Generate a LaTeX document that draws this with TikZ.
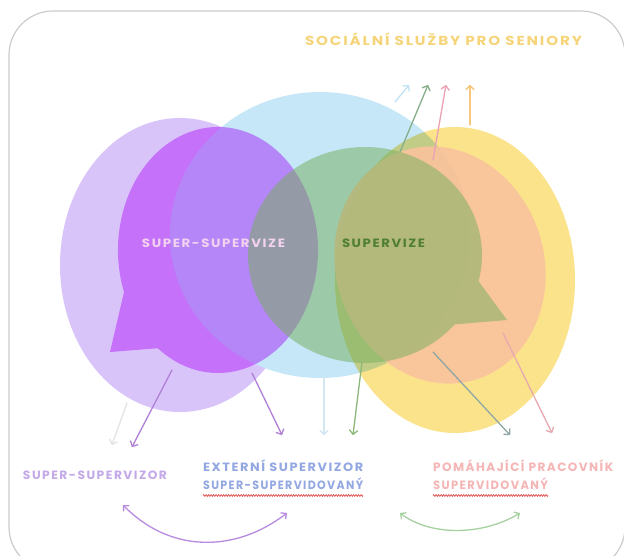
\documentclass[tikz,border=0pt]{standalone}
\usepackage{fontspec}
\usepackage{graphicx}
\newfontfamily\labfont{Poppins}[LetterSpace=12]
\usetikzlibrary{arrows.meta,decorations.pathmorphing}

\definecolor{framegray}{HTML}{CCCCCC}
\definecolor{lavender}{HTML}{D9C4FA}
\definecolor{skyblue}{HTML}{C5E7F7}
\definecolor{sunny}{HTML}{FBE38C}
\definecolor{peach}{HTML}{F9C39C}
\definecolor{magentamul}{HTML}{E994FF}
\definecolor{leaf}{HTML}{78AF5F}
\definecolor{titlecol}{HTML}{F6D57A}
\definecolor{ssvcol}{HTML}{F3D2F0}
\definecolor{svcol}{HTML}{4E7F32}
\definecolor{ssvzcol}{HTML}{C3A9E8}
\definecolor{extcol}{HTML}{93A8E2}
\definecolor{helpcol}{HTML}{F5B5B5}
\definecolor{spellred}{HTML}{E06060}
\definecolor{arrblue}{HTML}{BFE3F4}
\definecolor{arrgreen}{HTML}{86AE88}
\definecolor{arrpink}{HTML}{EAA2B4}
\definecolor{arrorange}{HTML}{F6C77C}
\definecolor{arrgray}{HTML}{E3E3E3}
\definecolor{arrpurple}{HTML}{B07FD6}
\definecolor{arrlblue}{HTML}{D5E6F3}
\definecolor{arrleaf}{HTML}{8CB87C}
\definecolor{arrteal}{HTML}{8FA7A4}
\definecolor{arrrose}{HTML}{E9A9B0}
\definecolor{swapviolet}{HTML}{B88AE0}
\definecolor{swapgreen}{HTML}{A5D0A0}

% set a label to a given width, keeping its height
\newcommand\wfit[2]{\resizebox{#1pt}{\height}{#2}}

\tikzset{
  flow/.style={line width=1.3pt, line cap=round, line join=round,
    -{Straight Barb[length=4pt,width=8pt,line cap=round,line join=round]}},
  swap/.style={line width=1.3pt, line cap=round,
    {Straight Barb[length=4pt,width=8pt]}-{Straight Barb[length=4pt,width=8pt]}},
  lab/.style={font=\labfont\bfseries\fontsize{12}{14}\selectfont,
    inner sep=0pt, text height=8.5pt, text depth=0pt},
  spell/.style={spellred, line width=0.8pt,
    decorate, decoration={zigzag, segment length=2.5pt, amplitude=0.9pt}}
}

\begin{document}
\begin{tikzpicture}[x=1pt,y=-1pt]
\useasboundingbox (0,0) rectangle (624,555);
\fill[white] (0,0) rectangle (624,555);

% outer card
\begin{scope}
  \clip (0,0) rectangle (624,555);
  \draw[framegray, line width=1.2pt, rounded corners=44pt] (9,11) rectangle (625,571);
\end{scope}

% base circles
\fill[lavender] (180,265) ellipse [x radius=120, y radius=147];
\fill[skyblue] (320,235) ellipse [x radius=150, y radius=143];
\begin{scope}[blend mode=multiply]
  \fill[sunny] (455,280) ellipse [x radius=120, y radius=153];
\end{scope}
\fill[peach, fill opacity=0.92, rotate around={18:(440,265)}]
  (440,265) ellipse [x radius=104, y radius=120];

% speech bubble: super-supervision
\begin{scope}[blend mode=multiply]
  \fill[magentamul] (218,250) ++(160:100 and 123)
    arc [start angle=160, end angle=487, x radius=100, y radius=123]
    -- (110,352) -- cycle;
\end{scope}

% speech bubble: supervision
\fill[leaf, fill opacity=0.52] (365,255) ++(40:117 and 108)
  arc [start angle=40, end angle=374, x radius=117, y radius=108]
  -- (507,320) -- cycle;

% arrow end points
\coordinate (tb0) at (395,102); \coordinate (tb1) at (409,85);
\coordinate (tg0) at (400,152); \coordinate (tg1) at (428,85);
\coordinate (tp0) at (433,160); \coordinate (tp1) at (446,85);
\coordinate (to0) at (470,125); \coordinate (to1) at (470,85);
\coordinate (bgr0) at (127,403); \coordinate (bgr1) at (112,445);
\coordinate (bpa0) at (172,370); \coordinate (bpa1) at (132,447);
\coordinate (bpb0) at (252,373); \coordinate (bpb1) at (282,435);
\coordinate (blb0) at (324,378); \coordinate (blb1) at (324,435);
\coordinate (bgn0) at (362,362); \coordinate (bgn1) at (353,435);
\coordinate (btl0) at (433,352); \coordinate (btl1) at (510,435);
\coordinate (brs0) at (503,333); \coordinate (brs1) at (552,433);

% arrows towards social services
\draw[flow, arrblue] (tb0) -- (tb1);
\draw[flow, arrgreen] (tg0) -- (tg1);
\draw[flow, arrpink] (tp0) -- (tp1);
\draw[flow, arrorange] (to0) -- (to1);

% arrows towards the roles
\draw[flow, arrgray] (bgr0) -- (bgr1);
\draw[flow, arrpurple] (bpa0) -- (bpa1);
\draw[flow, arrpurple] (bpb0) -- (bpb1);
\draw[flow, arrlblue] (blb0) -- (blb1);
\draw[flow, arrleaf] (bgn0) -- (bgn1);
\draw[flow, arrteal] (btl0) -- (btl1);
\draw[flow, arrrose] (brs0) -- (brs1);

% texts
\node[lab, titlecol, font=\labfont\bfseries\fontsize{13}{15}\selectfont,
  text height=9pt] (title) at (443.5,41) {\wfit{277}{SOCIÁLNÍ SLUŽBY PRO SENIORY}};
\node[lab, ssvcol] (ssv) at (213.5,243) {\wfit{143}{SUPER-SUPERVIZE}};
\node[lab, svcol] (sv) at (383.5,243) {\wfit{83}{SUPERVIZE}};
\node[lab, ssvzcol] (ssvz) at (95,475) {\wfit{144}{SUPER-SUPERVIZOR}};
\node[lab, extcol, anchor=west] (ext) at (203,467) {\wfit{160}{EXTERNÍ SUPERVIZOR}};
\node[lab, extcol, anchor=west] (ssvd) at (203,485) {\wfit{160}{SUPER-SUPERVIDOVANÝ}};
\node[lab, helpcol, anchor=west] (help) at (433,467) {\wfit{180}{POMÁHAJÍCÍ PRACOVNÍK}};
\node[lab, helpcol, anchor=west] (svd) at (433,485) {\wfit{115}{SUPERVIDOVANÝ}};

% spell-check underlines
\draw[spell] (ssvd.south west) ++(0,6) -- ++(160,0);
\draw[spell] (svd.south west) ++(0,6) -- ++(115,0);

% exchanges between roles
\coordinate (sw1) at (123,505); \coordinate (sw2) at (287,513);
\coordinate (sw3) at (400,513); \coordinate (sw4) at (520,513);
\draw[swap, swapviolet] (sw1) .. controls (170,553) and (235,553) .. (sw2);
\draw[swap, swapgreen] (sw3) .. controls (430,536) and (482,536) .. (sw4);
\end{tikzpicture}
\end{document}
